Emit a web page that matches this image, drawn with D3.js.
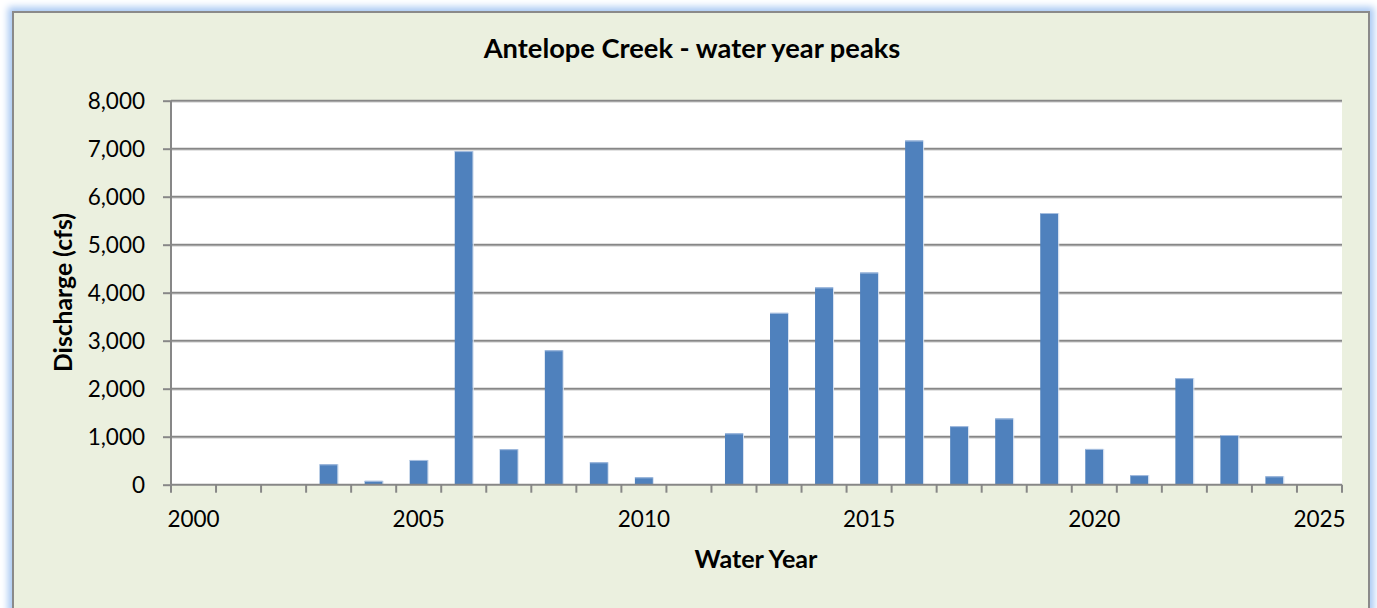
<!DOCTYPE html>
<html>
<head>
<meta charset="utf-8">
<script src="https://cdn.jsdelivr.net/npm/d3@7"></script>
<style>
  html, body { margin: 0; padding: 0; background: #ffffff; overflow: hidden; }
  #frame {
    position: absolute; left: 12px; top: 11px; width: 1358px; height: 600px;
    background: #EBF0DF; border: 2px solid #8a8a8a; box-sizing: border-box;
    box-shadow: 0 0 7px 4px #a9c9f3;
  }
  svg { position: absolute; left: 0; top: 0; }
  text { font-family: Lato, "Open Sans", sans-serif; fill: #000; }
</style>
</head>
<body>
<div id="frame"></div>
<svg id="chart" width="1377" height="608"></svg>
<script>
// ---- data ----
const years = ["2000","2001","2002","2003","2004","2005","2006","2007","2008","2009","2010","2011","2012",
               "2013","2014","2015","2016","2017","2018","2019","2020","2021","2022","2023","2024","2025"];
const peaks = [null, null, null, 425, 80, 515, 6950, 740, 2800, 467, 154, null, 1070,
               3580, 4110, 4420, 7170, 1220, 1380, 5660, 745, 200, 2220, 1035, 175, null];
const yTicks = [0, 1000, 2000, 3000, 4000, 5000, 6000, 7000, 8000];
const xTickLabels = ["2000", "2005", "2010", "2015", "2020", "2025"];
const titleText = "Antelope Creek - water year peaks";
const xTitle = "Water Year";
const yTitle = "Discharge (cfs)";

// ---- layout ----
const plot = { left: 171, right: 1342, top: 100.7, bottom: 484.7 };
const svg = d3.select("#chart");

const x = d3.scaleBand().domain(years).range([plot.left, plot.right])
  .paddingInner(0.6).paddingOuter(0.3);
const xCat = d3.scaleBand().domain(years).range([plot.left, plot.right]).padding(0);
const y = d3.scaleLinear().domain([0, 8000]).range([plot.bottom, plot.top]);

// plot background
svg.append("rect").attr("x", plot.left).attr("y", plot.top)
  .attr("width", plot.right - plot.left).attr("height", plot.bottom - plot.top)
  .attr("fill", "#ffffff");

// gridlines (with light shadow)
const grid = svg.append("g");
yTicks.filter(d => d > 0).forEach(d => {
  grid.append("line").attr("x1", plot.left).attr("x2", plot.right)
    .attr("y1", y(d) + 1.8).attr("y2", y(d) + 1.8)
    .attr("stroke", "#e2e2e2").attr("stroke-width", 1);
  grid.append("line").attr("x1", plot.left).attr("x2", plot.right)
    .attr("y1", y(d)).attr("y2", y(d))
    .attr("stroke", "#878787").attr("stroke-width", 2);
});

// bars
const data = years.map((yr, i) => ({ yr, v: peaks[i] })).filter(d => d.v !== null);
const bars = svg.append("g");
bars.selectAll("rect.bar").data(data).join("rect").attr("class", "bar")
  .attr("x", d => x(d.yr)).attr("width", x.bandwidth())
  .attr("y", d => y(d.v)).attr("height", d => y(0) - y(d.v))
  .attr("fill", "#4F81BD");
bars.selectAll("line.top").data(data).join("line").attr("class", "top")
  .attr("x1", d => x(d.yr)).attr("x2", d => x(d.yr) + x.bandwidth())
  .attr("y1", d => y(d.v) + 0.5).attr("y2", d => y(d.v) + 0.5)
  .attr("stroke", "#a7bfe0").attr("stroke-width", 1);
bars.selectAll("line.side").data(data).join("line").attr("class", "side")
  .attr("x1", d => x(d.yr) + x.bandwidth() + 0.5).attr("x2", d => x(d.yr) + x.bandwidth() + 0.5)
  .attr("y1", d => y(d.v)).attr("y2", y(0))
  .attr("stroke", "#d6e1f0").attr("stroke-width", 1);

// y axis
const yAxis = d3.axisLeft(y).tickValues(yTicks).tickSize(8).tickPadding(18)
  .tickFormat(d3.format(","));
const gy = svg.append("g").attr("transform", `translate(${plot.left},0)`).call(yAxis);
gy.select(".domain").attr("stroke", "#878787").attr("stroke-width", 2)
  .attr("d", `M0,${plot.top}V${plot.bottom}`);
gy.selectAll(".tick line").attr("stroke", "#878787").attr("stroke-width", 2);
gy.selectAll(".tick text").attr("font-size", 22.5).attr("font-family", "Lato, sans-serif")
  .attr("fill", "#000").attr("dy", "0.36em");

// x axis: ticks at category boundaries, labels at category centres
const boundaries = years.map(d => xCat(d)).concat([plot.right]);
const gx = svg.append("g");
gx.append("line").attr("x1", plot.left).attr("x2", plot.right)
  .attr("y1", plot.bottom).attr("y2", plot.bottom)
  .attr("stroke", "#878787").attr("stroke-width", 2);
gx.selectAll("line.tk").data(boundaries).join("line").attr("class", "tk")
  .attr("x1", d => d).attr("x2", d => d)
  .attr("y1", plot.bottom).attr("y2", plot.bottom + 8)
  .attr("stroke", "#878787").attr("stroke-width", 2);
gx.selectAll("text").data(xTickLabels).join("text")
  .attr("x", d => xCat(d) + xCat.bandwidth() / 2).attr("y", 527)
  .attr("text-anchor", "middle").attr("font-size", 22.5).text(d => d);

// titles
function fit(sel, target) {
  const w = sel.node().getComputedTextLength();
  const fs = parseFloat(sel.attr("font-size"));
  sel.attr("font-size", fs * target / w);
}
const t = svg.append("text").attr("x", 692).attr("y", 58).attr("text-anchor", "middle")
  .attr("font-weight", "bold").attr("font-size", 25).text(titleText);
fit(t, 417);
const xt = svg.append("text").attr("x", 756).attr("y", 568).attr("text-anchor", "middle")
  .attr("font-weight", "bold").attr("font-size", 23).text(xTitle);
fit(xt, 123);
const yt = svg.append("text").attr("transform", "translate(72,292.5) rotate(-90)")
  .attr("text-anchor", "middle").attr("font-weight", "bold").attr("font-size", 22).text(yTitle);
fit(yt, 159);
</script>
</body>
</html>
